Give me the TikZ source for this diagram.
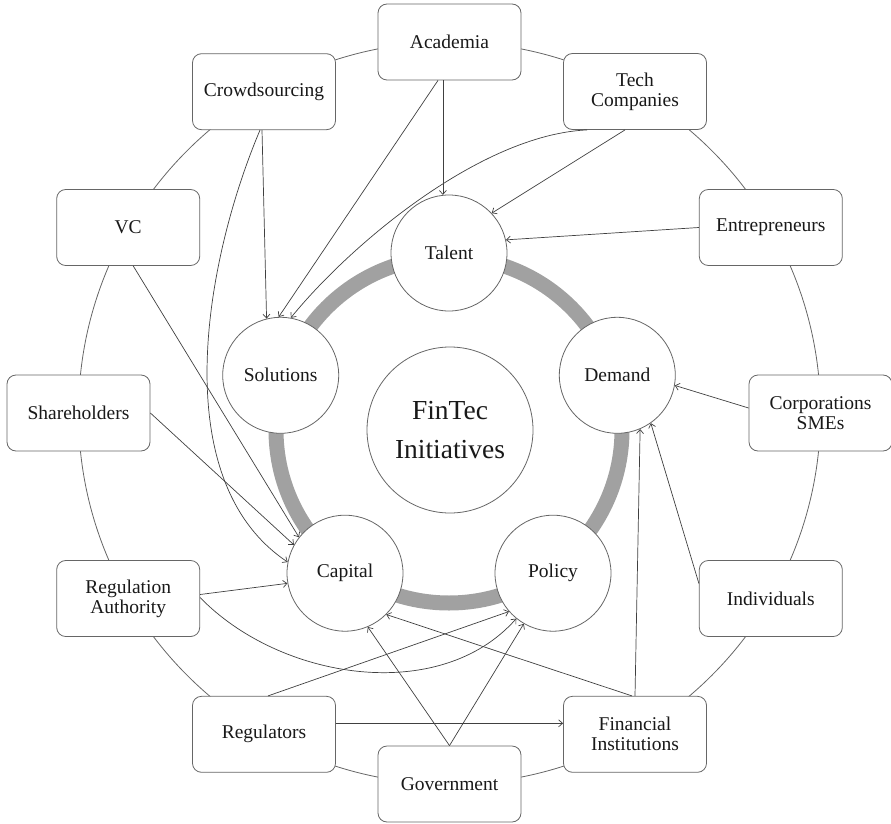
\documentclass[tikz,border=0pt]{standalone}
\usepackage{fontspec}
\setmainfont{Liberation Serif}
\usetikzlibrary{arrows.meta,calc}
\begin{document}
\begin{tikzpicture}[x=1pt,y=-1pt,
  actor/.style={draw=black!60, line width=0.8pt, rounded corners=9pt, fill=white,
    minimum width=143pt, minimum height=76pt, align=center, inner sep=2pt,
    font=\fontsize{19.5}{20}\selectfont, text=black!90},
  pillar/.style={circle, draw=black!60, line width=0.8pt, fill=white,
    minimum size=116pt, inner sep=0pt, font=\fontsize{19.5}{20}\selectfont, text=black!90},
  link/.style={draw=black!75, line width=0.7pt, -{Straight Barb[length=4pt,width=7pt]}},
]
\useasboundingbox (0,0) rectangle (891,824);

% outer ring of stakeholders
\draw[black!60, line width=0.8pt] (449.5,413) circle[radius=371];
% grey band joining the five pillars
\draw[black!37, line width=15pt] (449,430) circle[radius=173];

% stakeholders
\node[actor] (academia) at (449.5,42)   {Academia};
\node[actor] (tech)     at (635,91.5)   {Tech\\Companies};
\node[actor] (entre)    at (770.8,227.5) {Entrepreneurs};
\node[actor] (corp)     at (820.5,413)  {Corporations\\SMEs};
\node[actor] (ind)      at (770.8,598.5) {Individuals};
\node[actor] (fi)       at (635,734.3)  {Financial\\Institutions};
\node[actor] (gov)      at (449.5,784)  {Government};
\node[actor] (reg)      at (264,734.3)  {Regulators};
\node[actor] (ra)       at (128.2,598.5) {Regulation\\Authority};
\node[actor] (share)    at (78.5,413)   {Shareholders};
\node[actor] (vc)       at (128.2,227.5) {VC};
\node[actor] (crowd)    at (264,91.7)   {Crowdsourcing};

% pillars
\node[pillar] (talent)    at (449,253)     {Talent};
\node[pillar] (solutions) at (280.7,375.3) {Solutions};
\node[pillar] (demand)    at (617.3,375.3) {Demand};
\node[pillar] (capital)   at (345,573.2)   {Capital};
\node[pillar] (policy)    at (553,573.2)   {Policy};

% core
\node[circle, draw=black!60, line width=0.8pt, fill=white, minimum size=166pt,
  inner sep=0pt, align=center, font=\fontsize{27.5}{39}\selectfont, text=black!90]
  (core) at (450,430) {FinTec\\Initiatives};

% influences
\draw[link] (talent.96 |- academia.south) -- (talent.96);
\draw[link] ($(academia.south)+(-11.5,0)$) -- (solutions.92);
\draw[link] ($(tech.south)+(-10,0)$) -- (talent.43);
\draw[link] ($(tech.south)+(-48,0)$) .. controls (480,135) and (350,245) .. (solutions.80);
\draw[link] (entre.west) -- (talent.13);
\draw[link] ($(crowd.south)+(-2,0)$) -- (solutions.104);
\draw[link] ($(crowd.south)+(-4,0)$) .. controls (205,260) and (165,480) .. (capital.169);
\draw[link] ($(vc.south)+(5,0)$) -- (capital.142);
\draw[link] (share.east) -- (capital.151);
\draw[link] ($(ra.east)+(0,-4)$) -- (capital.190);
\draw[link] ($(ra.east)+(0,-1)$) .. controls (280,680) and (440,705) .. (policy.231);
\draw[link] ($(reg.north)+(4,0)$) -- (policy.221);
\draw[link] ($(reg.east)+(0,-11)$) -- ($(fi.west)+(0,-11)$);
\draw[link] (gov.north) -- (capital.293);
\draw[link] (gov.north) -- (policy.240);
\draw[link] ($(fi.north)+(-3,0)$) -- (capital.315);
\draw[link] (fi.north) -- (demand.293);
\draw[link] ($(ind.west)+(0,-15)$) -- (demand.305);
\draw[link] ($(corp.west)+(0,-5)$) -- (demand.350);
\end{tikzpicture}
\end{document}
